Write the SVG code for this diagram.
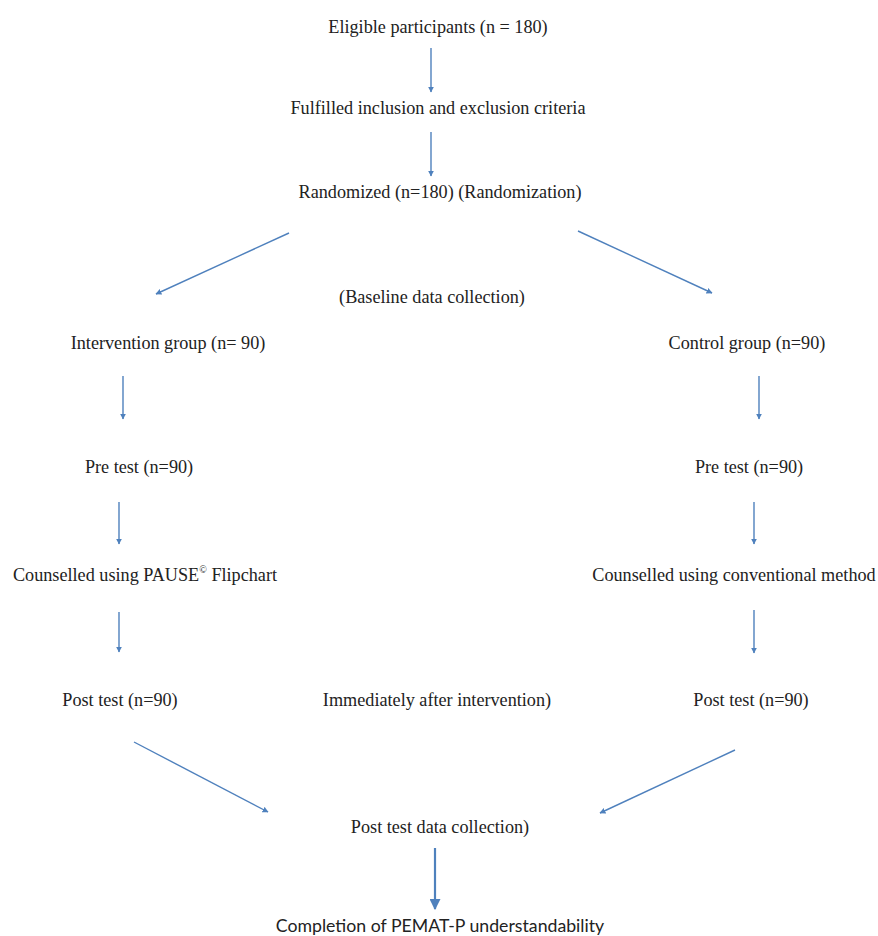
<svg xmlns="http://www.w3.org/2000/svg" width="878" height="936" viewBox="0 0 878 936">
<style>
text{font-family:"Liberation Serif","Times New Roman",serif;font-size:18.2px;fill:#222;text-anchor:middle}
.sans{font-family:Lato,"Open Sans","Liberation Sans",sans-serif;font-size:17.7px}
.c{stroke:#4f81bd;stroke-width:1.4;fill:none;marker-end:url(#ah)}
.ct{stroke:#4f81bd;stroke-width:2.2;fill:none;marker-end:url(#ahb)}
</style>
<defs>
<marker id="ah" viewBox="0 0 10 10" refX="9" refY="5" markerWidth="6" markerHeight="6" orient="auto" markerUnits="userSpaceOnUse"><path d="M0,0 L10,5 L0,10 z" fill="#4f81bd"/></marker>
<marker id="ahb" viewBox="0 0 10 10" refX="9" refY="5" markerWidth="11" markerHeight="11" orient="auto" markerUnits="userSpaceOnUse"><path d="M0,0 L10,5 L0,10 z" fill="#4f81bd"/></marker>
</defs>
<rect width="878" height="936" fill="#fff"/>
<g id="connectors">
<line class="c" x1="431" y1="48" x2="431" y2="92"/>
<line class="c" x1="431" y1="132" x2="431" y2="176"/>
<line class="c" x1="289" y1="233" x2="156" y2="294"/>
<line class="c" x1="578" y1="231" x2="712" y2="293"/>
<line class="c" x1="123" y1="376" x2="123" y2="419"/>
<line class="c" x1="759" y1="376" x2="759" y2="419"/>
<line class="c" x1="119" y1="502" x2="119" y2="544"/>
<line class="c" x1="754" y1="502" x2="754" y2="544"/>
<line class="c" x1="119" y1="612" x2="119" y2="652"/>
<line class="c" x1="754" y1="610" x2="754" y2="653"/>
<line class="c" x1="134" y1="742" x2="268" y2="812"/>
<line class="c" x1="735" y1="750" x2="600" y2="813"/>
<line class="ct" x1="435" y1="848" x2="435" y2="909"/>
</g>
<g id="eligible"><text x="438" y="33">Eligible participants (n = 180)</text></g>
<g id="fulfilled"><text x="438" y="114">Fulfilled inclusion and exclusion criteria</text></g>
<g id="randomized"><text x="440" y="198">Randomized (n=180) (Randomization)</text></g>
<g id="baseline"><text x="432" y="303">(Baseline data collection)</text></g>
<g id="intervention"><text x="168" y="349">Intervention group (n= 90)</text></g>
<g id="control"><text x="747" y="349">Control group (n=90)</text></g>
<g id="pre-left"><text x="139" y="473">Pre test (n=90)</text></g>
<g id="pre-right"><text x="749" y="473">Pre test (n=90)</text></g>
<g id="counsel-left"><text x="145" y="581">Counselled using PAUSE<tspan font-size="10" dy="-8">©</tspan><tspan dy="8"> Flipchart</tspan></text></g>
<g id="counsel-right"><text x="734" y="581">Counselled using conventional method</text></g>
<g id="post-left"><text x="120" y="706">Post test (n=90)</text></g>
<g id="immediately"><text x="437" y="706">Immediately after intervention)</text></g>
<g id="post-right"><text x="751" y="706">Post test (n=90)</text></g>
<g id="post-collection"><text x="440" y="833">Post test data collection)</text></g>
<g id="completion"><text class="sans" x="440" y="932">Completion of PEMAT-P understandability</text></g>
</svg>
